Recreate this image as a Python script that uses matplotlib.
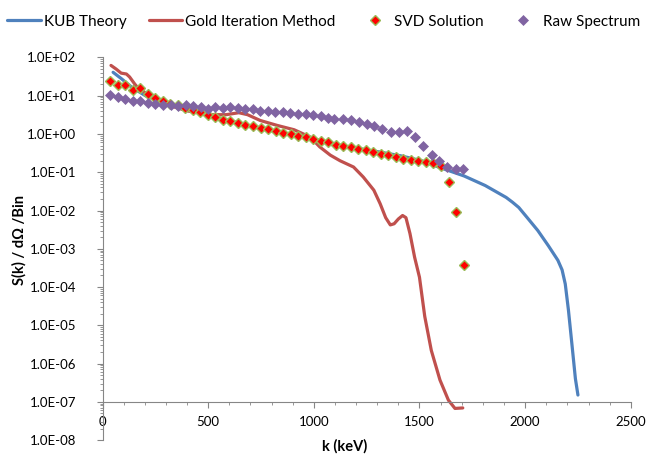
import matplotlib
matplotlib.use("Agg")
import matplotlib.pyplot as plt
from matplotlib.ticker import MultipleLocator, FixedLocator, FuncFormatter, NullFormatter

plt.rcParams['font.family'] = ['Lato', 'DejaVu Sans']

# KUB theory curve
kub_k = [50, 90, 138, 203, 304, 404, 505, 605, 706, 806, 907, 1008, 1108, 1209, 1309,
         1410, 1510, 1610, 1711, 1811, 1910, 1940, 1970, 2010, 2060, 2110, 2155, 2175,
         2190, 2205, 2222, 2238, 2250]
kub_s = [41, 27.7, 16.7, 10, 6, 4.1, 3.1, 2.2, 1.6, 1.2, 0.92, 0.72, 0.52, 0.42, 0.34,
         0.27, 0.2, 0.125, 0.08, 0.045, 0.022, 0.0165, 0.012, 0.0065, 0.003, 0.0012,
         0.0005, 0.00028, 0.00012, 2.5e-5, 3e-6, 4e-7, 1.5e-7]

# Gold iteration method curve
gold_k = [40, 64, 88, 113, 128, 153, 168, 193, 233, 304, 404, 505, 585, 645, 686,
          746, 826, 907, 983, 1028, 1078, 1124, 1188, 1234, 1284, 1314, 1340, 1362,
          1380, 1400, 1420, 1436, 1455, 1477, 1500, 1525, 1556, 1597, 1637, 1668, 1705]
gold_s = [62, 50, 39, 37, 31, 20, 16, 13, 9, 5.8, 4.0, 3.2, 3.2, 3.6, 3.2,
          2.26, 1.68, 1.29, 0.83, 0.46, 0.28, 0.2, 0.137, 0.075, 0.034, 0.015, 0.0065,
          0.0042, 0.0045, 0.006, 0.0074, 0.0065, 0.0025, 0.0006, 1.8e-4, 1.7e-5,
          2.2e-6, 3.7e-7, 1.1e-7, 6.7e-8, 6.9e-8]

# SVD solution points
svd_k = [36, 71, 107, 142, 178, 214, 249, 285, 320, 356, 392, 427, 463, 498, 534, 570,
         605, 641, 676, 712, 748, 783, 819, 854, 890, 926, 961, 997, 1032, 1068, 1104,
         1139, 1175, 1210, 1246, 1282, 1317, 1353, 1388, 1424, 1460, 1495, 1531, 1566,
         1602, 1638, 1673, 1709]
svd_s = [23.6, 19.4, 18.6, 13.8, 15.8, 10.8, 8.7, 7.2, 6.2, 5.6, 4.9, 4.3, 3.7, 3.2,
         2.75, 2.36, 2.13, 1.93, 1.75, 1.58, 1.46, 1.32, 1.19, 1.08, 0.99, 0.90, 0.81,
         0.74, 0.67, 0.60, 0.53, 0.495, 0.457, 0.413, 0.373, 0.337, 0.306, 0.276, 0.245,
         0.222, 0.205, 0.193, 0.185, 0.174, 0.15, 0.055, 0.009, 0.00037]

# Raw spectrum points
raw_k = [35, 72, 108, 143, 179, 214, 250, 286, 323, 357, 394, 430, 466, 501, 532, 569,
         603, 640, 676, 712, 747, 783, 818, 854, 889, 925, 961, 996, 1033, 1067, 1097,
         1137, 1175, 1214, 1250, 1286, 1324, 1364, 1403, 1441, 1480, 1518, 1558, 1594,
         1632, 1672, 1708]
raw_s = [10.2, 9.2, 8.3, 7.5, 7.2, 6.6, 6.2, 5.6, 5.6, 5.4, 5.6, 5.25, 5.0, 4.6, 5.0,
         4.86, 5.0, 4.86, 4.6, 4.4, 4.1, 3.96, 3.73, 3.73, 3.56, 3.39, 3.25, 3.06, 2.88,
         2.67, 2.51, 2.41, 2.27, 2.05, 1.84, 1.58, 1.34, 1.10, 1.15, 1.23, 0.85, 0.50,
         0.29, 0.20, 0.137, 0.119, 0.119]

decades = [1e-8, 1e-7, 1e-6, 1e-5, 1e-4, 1e-3, 1e-2, 1e-1, 1e0, 1e1, 1e2]

fig = plt.figure(figsize=(6.49, 4.61), dpi=100)
ax = fig.add_axes([0.158, 0.0455, 0.8139, 0.8298])

ax.plot(kub_k, kub_s, color='#4F81BD', lw=2.3, label='KUB Theory', solid_capstyle='round')
ax.plot(gold_k, gold_s, color='#C0504D', lw=2.3, label='Gold Iteration Method',
        solid_capstyle='round')
ax.plot(svd_k, svd_s, ls='none', marker='D', ms=5.0, mfc='#FF0000', mec='#9BBB59',
        mew=1.0, label='SVD Solution')
ax.plot(raw_k, raw_s, ls='none', marker='D', ms=4.7, mfc='#8064A2', mec='#8064A2',
        mew=0.5, label='Raw Spectrum')

ax.set_yscale('log')
ax.set_xlim(0, 2500)
ax.set_ylim(1e-8, 1e2)

gray = '#868686'
for s in ['top', 'right']:
    ax.spines[s].set_visible(False)
ax.spines['left'].set_color(gray)
ax.spines['bottom'].set_color(gray)
ax.spines['bottom'].set_position(('data', 1e-7))

ax.xaxis.set_major_locator(MultipleLocator(500))
ax.xaxis.set_minor_locator(MultipleLocator(100))
ax.yaxis.set_major_locator(FixedLocator(decades))
ax.yaxis.set_minor_locator(FixedLocator([d * m for d in decades[:-1] for m in range(2, 10)]))
ax.yaxis.set_minor_formatter(NullFormatter())
ax.yaxis.set_major_formatter(FuncFormatter(lambda v, p: f"{v:.1E}"))

ax.tick_params(which='major', length=4, color=gray, labelsize=9.5, labelcolor='black')
ax.tick_params(which='minor', length=2.5, color=gray)
ax.tick_params(axis='y', pad=15)
ax.tick_params(axis='x', pad=6)

fig.text(345 / 649, 1 - 446 / 461, 'k (keV)', fontsize=10.5, fontweight='bold',
         ha='center', va='center')
fig.text(19 / 649, 1 - 240 / 461, 'S(k) / dΩ /Bin', fontsize=10.5, fontweight='bold',
         ha='center', va='center', rotation=90)

fig.legend(loc='center', bbox_to_anchor=(0.4985, 1 - 21.7 / 461), ncol=4, frameon=False,
           fontsize=11, handlelength=2.2, handletextpad=0.2, columnspacing=1.45,
           borderpad=0, borderaxespad=0)

fig.savefig('out.png', dpi=100)
